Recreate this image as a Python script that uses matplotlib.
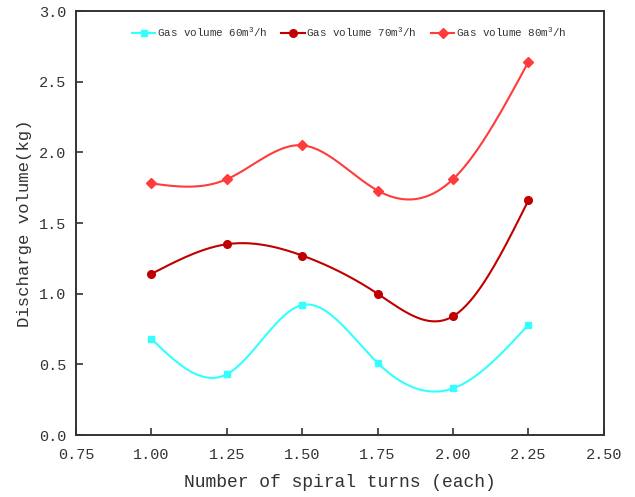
import numpy as np
import matplotlib.pyplot as plt

turns = [1.00, 1.25, 1.50, 1.75, 2.00, 2.25]
gas_60 = [0.68, 0.43, 0.92, 0.51, 0.33, 0.78]
gas_70 = [1.14, 1.35, 1.27, 1.00, 0.84, 1.66]
gas_80 = [1.78, 1.81, 2.05, 1.73, 1.81, 2.64]
labels = ["Gas volume 60m$^3$/h", "Gas volume 70m$^3$/h", "Gas volume 80m$^3$/h"]
xticks = [0.75, 1.00, 1.25, 1.50, 1.75, 2.00, 2.25, 2.50]
yticks = [0.0, 0.5, 1.0, 1.5, 2.0, 2.5, 3.0]


def spline(x, y, n=200):
    # natural cubic spline through the measured points
    x = np.asarray(x, float)
    y = np.asarray(y, float)
    h = np.diff(x)
    k = len(x)
    A = np.zeros((k, k))
    b = np.zeros(k)
    A[0, 0] = A[-1, -1] = 1
    for i in range(1, k - 1):
        A[i, i - 1] = h[i - 1]
        A[i, i] = 2 * (h[i - 1] + h[i])
        A[i, i + 1] = h[i]
        b[i] = 3 * ((y[i + 1] - y[i]) / h[i] - (y[i] - y[i - 1]) / h[i - 1])
    c = np.linalg.solve(A, b)
    xs = np.linspace(x[0], x[-1], n)
    idx = np.clip(np.searchsorted(x, xs) - 1, 0, k - 2)
    dx = xs - x[idx]
    bb = (y[1:] - y[:-1]) / h - h * (2 * c[:-1] + c[1:]) / 3
    d = (c[1:] - c[:-1]) / (3 * h)
    ys = y[idx] + bb[idx] * dx + c[idx] * dx ** 2 + d[idx] * dx ** 3
    return xs, ys


plt.rcParams['font.family'] = ['Liberation Mono', 'DejaVu Sans']
plt.rcParams['mathtext.fontset'] = 'custom'
plt.rcParams['mathtext.rm'] = 'Liberation Mono'

fig = plt.figure(figsize=(6.35, 4.97), dpi=100)
ax = fig.add_axes([0.1197, 0.1247, 0.8311, 0.8531])

series = [
    (gas_60, "#33FFFF", "s", 5),
    (gas_70, "#C00000", "o", 5.5),
    (gas_80, "#FF3B3B", "D", 5),
]
for (vals, col, mk, ms), lab in zip(series, labels):
    xs, ys = spline(turns, vals)
    ax.plot(xs, ys, color=col, lw=1.5)
    ax.plot(turns, vals, ls="none", marker=mk, ms=ms, color=col)
    ax.plot([], [], color=col, lw=1.5, marker=mk, ms=ms, label=lab)

ax.set_xlim(0.75, 2.5)
ax.set_ylim(0, 3)
ax.set_xticks(xticks)
ax.set_yticks(yticks)
ax.set_xticklabels(["%.2f" % t for t in xticks])
ax.set_yticklabels(["%.1f" % t for t in yticks])
ax.tick_params(direction="in", length=5, width=1.2, labelsize=11, colors="#333333",
               top=False, right=False)
ax.tick_params(axis="x", pad=9)
ax.tick_params(axis="y", pad=7)
for s in ax.spines.values():
    s.set_linewidth(1.4)
    s.set_color("#333333")

ax.set_xlabel("Number of spiral turns (each)", fontsize=13, color="#333333", labelpad=9)
ax.set_ylabel("Discharge volume(kg)", fontsize=12.5, color="#333333", labelpad=5)

ax.legend(loc="upper center", bbox_to_anchor=(0.517, 0.997), ncol=3, frameon=False,
          fontsize=7.8, handlelength=2.2, handletextpad=0.1, columnspacing=1.3,
          labelcolor="#333333", borderaxespad=0.8)

fig.savefig("out.png", dpi=100)
